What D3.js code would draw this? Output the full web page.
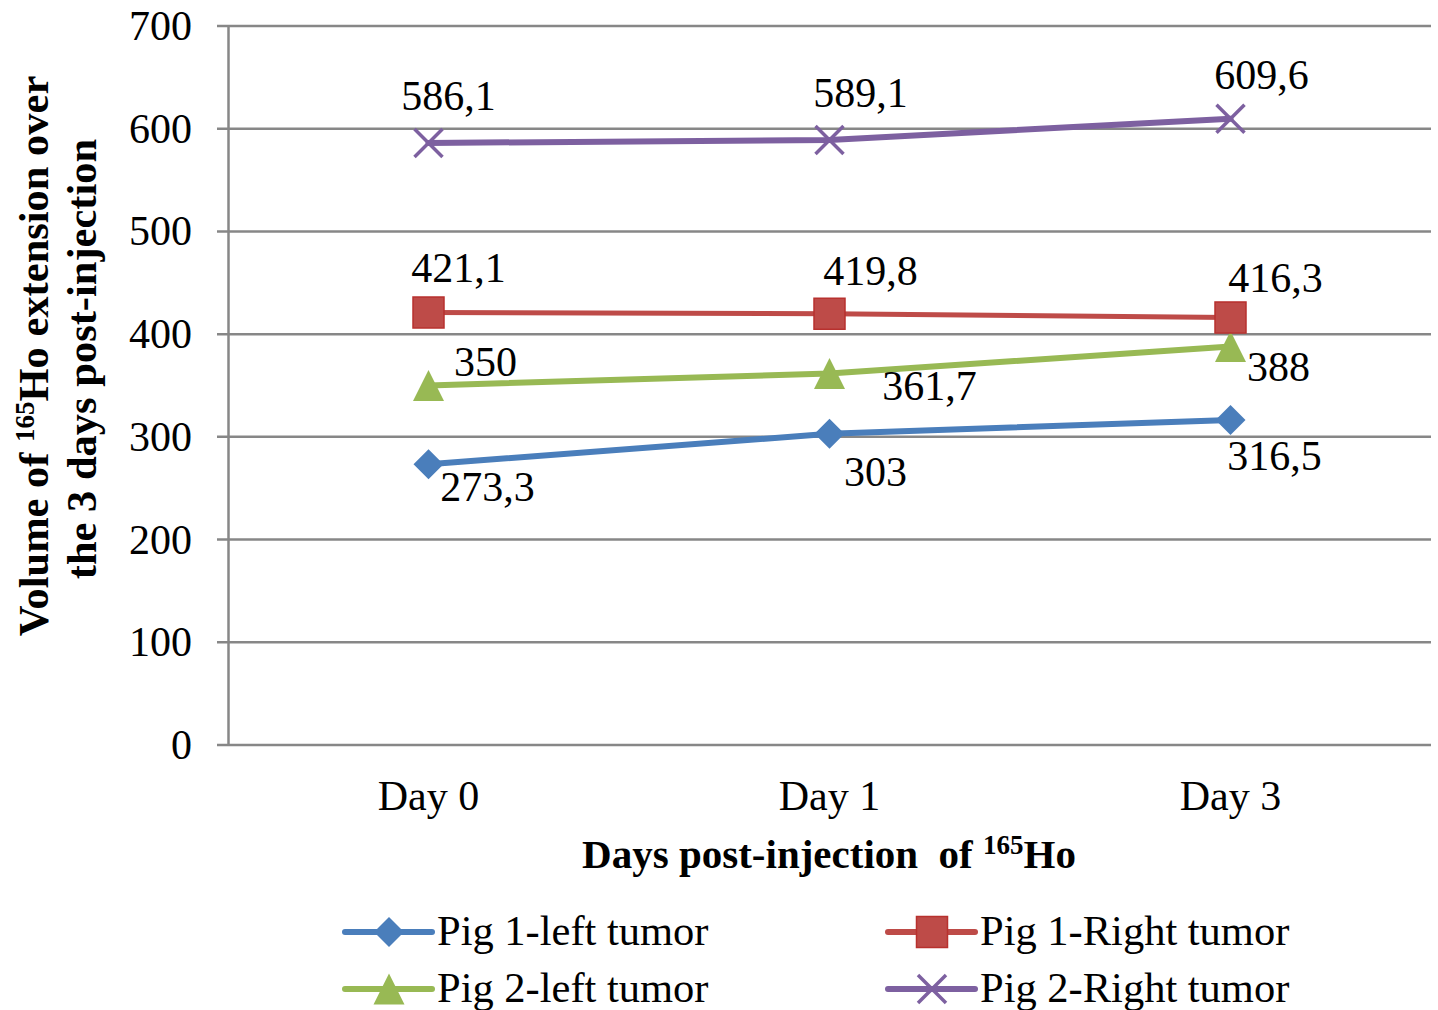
<!DOCTYPE html>
<html><head><meta charset="utf-8">
<script src="https://cdn.jsdelivr.net/npm/d3@7"></script>
<style>
html,body{margin:0;padding:0;background:#fff;}
text{font-family:"Liberation Serif","Times New Roman",serif;fill:#000;}
</style></head>
<body><svg id="chart" width="1438" height="1010"></svg>
<script>
const categories = ["Day 0", "Day 1", "Day 3"];
const seriesNames = ["Pig 1-left tumor", "Pig 1-Right tumor", "Pig 2-left tumor", "Pig 2-Right tumor"];
const pig1Left = [273.3, 303, 316.5];
const pig1Right = [421.1, 419.8, 416.3];
const pig2Left = [350, 361.7, 388];
const pig2Right = [586.1, 589.1, 609.6];
const yTicks = [0, 100, 200, 300, 400, 500, 600, 700];

const colors = ["#4A7EBB", "#BE4B48", "#98B954", "#7D60A0"];
const markerTypes = ["diamond", "square", "triangle", "x"];
// label offsets relative to points [dx, dy] (layout, not data)
const labelOffsets = [
  [[59, 37], [46, 52], [44, 50]],
  [[30, -30], [41, -29], [45, -25]],
  [[57, -10], [100, 27], [48, 35]],
  [[20, -33], [31, -33], [31, -30]]
];
const seriesValues = [pig1Left, pig1Right, pig2Left, pig2Right];

(function () {
const svg = d3.select("#chart");
const mLeft = 228, mRight = 1431, mTop = 26, mBottom = 745;

const x = d3.scaleBand().domain(categories).range([mLeft, mRight]);
const y = d3.scaleLinear().domain([0, 700]).range([mBottom, mTop]);
const xc = c => x(c) + x.bandwidth() / 2;

// gridlines
const grid = svg.append("g");
grid.selectAll("line").data(yTicks).join("line")
  .attr("x1", mLeft - 11).attr("x2", mRight)
  .attr("y1", d => y(d)).attr("y2", d => y(d))
  .attr("stroke", "#878787").attr("stroke-width", 2.5);

// y axis
const yAxis = d3.axisLeft(y).tickValues(yTicks).tickSize(0).tickPadding(36).tickFormat(d3.format("d"));
const ya = svg.append("g").attr("transform", `translate(${mLeft},0)`).call(yAxis);
ya.select(".domain").attr("stroke", "#878787").attr("stroke-width", 2.5);
ya.selectAll("text").style("font-size", "42px").attr("font-family", null);

// x axis labels
const xAxis = d3.axisBottom(x).tickSize(0).tickPadding(35);
const xa = svg.append("g").attr("transform", `translate(0,${mBottom})`).call(xAxis);
xa.select(".domain").remove();
xa.selectAll("text").style("font-size", "42px").attr("font-family", null);

function markerPath(type, s) {
  const h = s / 2;
  if (type === "diamond") return `M0,${-h}L${h},0L0,${h}L${-h},0Z`;
  if (type === "square") return `M${-h},${-h}H${h}V${h}H${-h}Z`;
  if (type === "triangle") return `M0,${-h}L${h},${h}L${-h},${h}Z`;
  return `M${-h},${-h}L${h},${h}M${h},${-h}L${-h},${h}`;
}
const markerSize = [30, 31, 31, 28];
function drawMarker(g, i, cx, cy) {
  const t = markerTypes[i];
  const p = g.append("path").attr("transform", `translate(${cx},${cy})`).attr("d", markerPath(t, markerSize[i]));
  if (t === "x") p.attr("fill", "none").attr("stroke", colors[i]).attr("stroke-width", 3.5);
  else if (t === "square") p.attr("fill", colors[i]).attr("stroke", "#B8312E").attr("stroke-width", 1.5);
  else p.attr("fill", colors[i]);
}

const line = d3.line().x((d, j) => xc(categories[j])).y(d => y(d));
const lineWidths = [6, 5, 6, 6];
const order = [0, 2, 1, 3];
order.forEach(i => {
  const g = svg.append("g");
  g.append("path").datum(seriesValues[i]).attr("d", line)
    .attr("fill", "none").attr("stroke", colors[i]).attr("stroke-width", lineWidths[i])
    .attr("stroke-linejoin", "round").attr("stroke-linecap", "round");
  seriesValues[i].forEach((v, j) => drawMarker(g, i, xc(categories[j]), y(v)));
});
order.forEach(i => {
  seriesValues[i].forEach((v, j) => {
    const [dx, dy] = labelOffsets[i][j];
    svg.append("text").attr("x", xc(categories[j]) + dx).attr("y", y(v) + dy)
      .attr("text-anchor", "middle").style("font-size", "42px")
      .text(String(v).replace(".", ","));
  });
});

// x title
const xt = svg.append("text").attr("x", 829).attr("y", 868).attr("text-anchor", "middle")
  .attr("xml:space", "preserve").style("white-space", "pre")
  .style("font-size", "41px").style("font-weight", "bold");
xt.append("tspan").text("Days post-injection  of ");
xt.append("tspan").attr("dy", -14).style("font-size", "27px").text("165");
xt.append("tspan").attr("dy", 14).text("Ho");

// y title
const yt = svg.append("text").attr("transform", "translate(48,356) rotate(-90)").attr("text-anchor", "middle")
  .style("font-size", "42.5px").style("font-weight", "bold");
yt.append("tspan").text("Volume of ");
yt.append("tspan").attr("dy", -14).style("font-size", "27px").text("165");
yt.append("tspan").attr("dy", 14).text("Ho extension over");
svg.append("text").attr("transform", "translate(96,359) rotate(-90)").attr("text-anchor", "middle")
  .style("font-size", "42.5px").style("font-weight", "bold").text("the 3 days post-injection");

// legend
const legendPos = [[345, 932], [888, 932], [345, 989], [888, 989]];
seriesNames.forEach((name, i) => {
  const [lx, ly] = legendPos[i];
  const g = svg.append("g");
  g.append("line").attr("x1", lx).attr("x2", lx + 87).attr("y1", ly).attr("y2", ly)
    .attr("stroke", colors[i]).attr("stroke-width", 6).attr("stroke-linecap", "round");
  drawMarker(g, i, lx + 44, ly);
  g.append("text").attr("x", lx + 92).attr("y", ly + 13).style("font-size", "42.5px").text(name);
});
})();
</script></body></html>
